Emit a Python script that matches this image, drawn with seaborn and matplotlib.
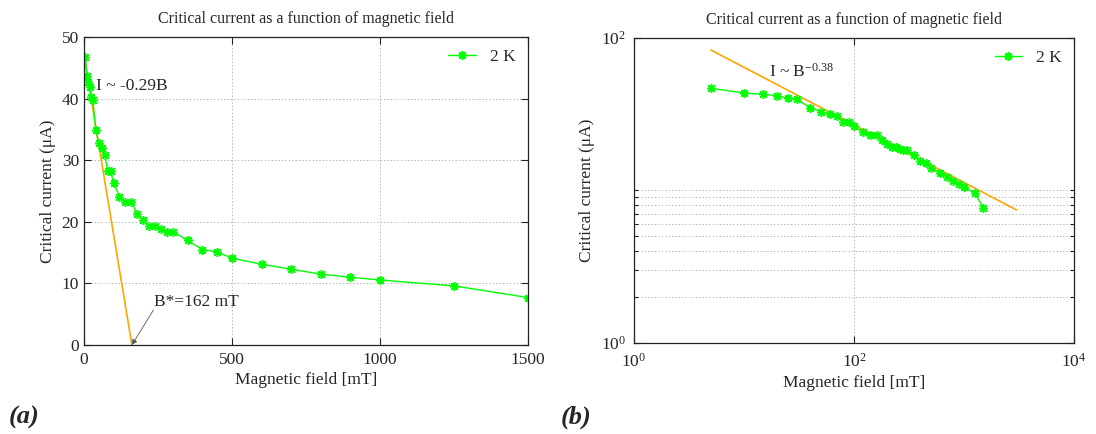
import numpy as np
import pandas as pd
import matplotlib
matplotlib.use("Agg")
import matplotlib.pyplot as plt
import matplotlib.ticker as mticker
import seaborn as sns

# ---------------- data ----------------
field_mT = [5, 10, 15, 20, 25, 30, 40, 50, 60, 70, 80, 90, 100, 120, 140, 160, 180,
            200, 220, 240, 260, 280, 300, 350, 400, 450, 500, 600, 700, 800, 900,
            1000, 1250, 1500]
current_uA = [46.8, 43.6, 42.7, 41.9, 40.2, 39.7, 34.9, 32.8, 31.9, 30.8, 28.3, 28.3,
              26.3, 24.1, 23.2, 23.2, 21.3, 20.3, 19.3, 19.3, 18.8, 18.4, 18.4, 17.0,
              15.5, 15.1, 14.1, 13.1, 12.3, 11.5, 11.0, 10.55, 9.6, 7.7]

lin_fit_B = [0, 162]
lin_fit_I = [47.0, 0.0]
pow_fit_B = [5, 3000]
pow_fit_I = [83.4, 7.45]

series_label = "2 K"
title_text = "Critical current as a function of magnetic field"
xlabel_text = "Magnetic field [mT]"
ylabel_text = "Critical current (\u03bcA)"

df = pd.DataFrame({"B": field_mT, "I": current_uA})
lin_df = pd.DataFrame({"B": lin_fit_B, "I": lin_fit_I})
pow_df = pd.DataFrame({"B": pow_fit_B, "I": pow_fit_I})

# ---------------- style ----------------
sns.set_style("ticks")
plt.rcParams["font.family"] = ["Liberation Serif", "DejaVu Serif"]
plt.rcParams["mathtext.fontset"] = "custom"
plt.rcParams["mathtext.rm"] = "Liberation Serif"
plt.rcParams["mathtext.it"] = "Liberation Serif:italic"
plt.rcParams["xtick.direction"] = "in"
plt.rcParams["ytick.direction"] = "in"

GREEN = "#00FF00"
ORANGE = "#FFA500"
FS_T = 11.5
FS = 12.5

fig = plt.figure(figsize=(10.96, 4.34), dpi=100)
axL = fig.add_axes([0.0766, 0.2051, 0.4051, 0.7097])
axR = fig.add_axes([0.5785, 0.2097, 0.4015, 0.7028])

star = (8, 2, 0)
line_kw = dict(color=GREEN, lw=1.0, marker=star, markersize=6.5,
               markeredgecolor=GREEN, markeredgewidth=1.1)

def style_axes(ax):
    for s in ax.spines.values():
        s.set_color("#222222")
        s.set_linewidth(0.9)
    ax.tick_params(which="both", top=True, right=True, labelsize=FS,
                   color="#222222", width=0.8)
    ax.tick_params(which="major", length=5)
    ax.tick_params(which="minor", length=3)
    ax.tick_params(axis="x", pad=5)
    ax.set_title(title_text, fontsize=FS_T, pad=10)
    ax.set_xlabel(xlabel_text, fontsize=FS, labelpad=3)
    ax.set_ylabel(ylabel_text, fontsize=FS, labelpad=4)

# ---------------- left panel ----------------
sns.lineplot(data=lin_df, x="B", y="I", ax=axL, color=ORANGE, lw=1.2,
             estimator=None, sort=False)
sns.lineplot(data=df, x="B", y="I", ax=axL, estimator=None, sort=False, **line_kw)
axL.set_xlim(0, 1500)
axL.set_ylim(0, 50)
axL.set_xticks([0, 500, 1000, 1500])
axL.set_yticks([0, 10, 20, 30, 40, 50])
axL.grid(True, which="major", ls=(0, (1.5, 2)), color="#b8b8b8", lw=0.7)
axL.set_axisbelow(True)
style_axes(axL)
axL.text(40, 42.0, "I ~ -0.29B", fontsize=12.5, va="center", ha="left")
axL.annotate("B*=162 mT", xy=(162, 0), xytext=(235, 7.0), fontsize=12.5,
             va="center", ha="left",
             arrowprops=dict(arrowstyle="-|>", color="#555555", lw=0.6,
                             shrinkA=0, shrinkB=0, mutation_scale=8,
                             patchA=None, relpos=(0.0, 0.0)))
hL = axL.lines[-1]
axL.legend([hL], [series_label], loc="upper right", frameon=False, fontsize=FS,
           handlelength=1.6, borderaxespad=0.3)

# ---------------- right panel ----------------
axR.set_xscale("log")
axR.set_yscale("log")
sns.lineplot(data=pow_df, x="B", y="I", ax=axR, color=ORANGE, lw=1.2,
             estimator=None, sort=False)
sns.lineplot(data=df, x="B", y="I", ax=axR, estimator=None, sort=False, **line_kw)
axR.set_xlim(1, 1e4)
axR.set_ylim(1, 100)
axR.xaxis.set_major_locator(mticker.FixedLocator([1, 100, 10000]))
axR.xaxis.set_minor_locator(mticker.NullLocator())
axR.yaxis.set_major_locator(mticker.FixedLocator([1, 100]))
axR.yaxis.set_minor_locator(mticker.FixedLocator([2, 3, 4, 5, 6, 7, 8, 9, 10]))
axR.yaxis.set_minor_formatter(mticker.NullFormatter())
axR.xaxis.set_major_formatter(mticker.LogFormatterSciNotation())
axR.yaxis.set_major_formatter(mticker.LogFormatterSciNotation())
axR.grid(True, which="major", axis="x", ls=(0, (1.5, 2)), color="#b8b8b8", lw=0.7)
axR.grid(True, which="minor", axis="y", ls=(0, (1.5, 2)), color="#b8b8b8", lw=0.7)
axR.set_axisbelow(True)
style_axes(axR)
axR.tick_params(axis="x", pad=7)
axR.tick_params(axis="y", pad=6)
axR.text(17, 60, "I ~ B$^{-0.38}$", fontsize=12.5, va="center", ha="left")
hR = axR.lines[-1]
axR.legend([hR], [series_label], loc="upper right", frameon=False, fontsize=FS,
           handlelength=1.6, borderaxespad=0.3)

# panel tags
fig.text(0.008, 0.025, "(a)", fontsize=19, fontweight="bold", style="italic")
fig.text(0.512, 0.025, "(b)", fontsize=19, fontweight="bold", style="italic")

fig.savefig("out.png", dpi=100)
